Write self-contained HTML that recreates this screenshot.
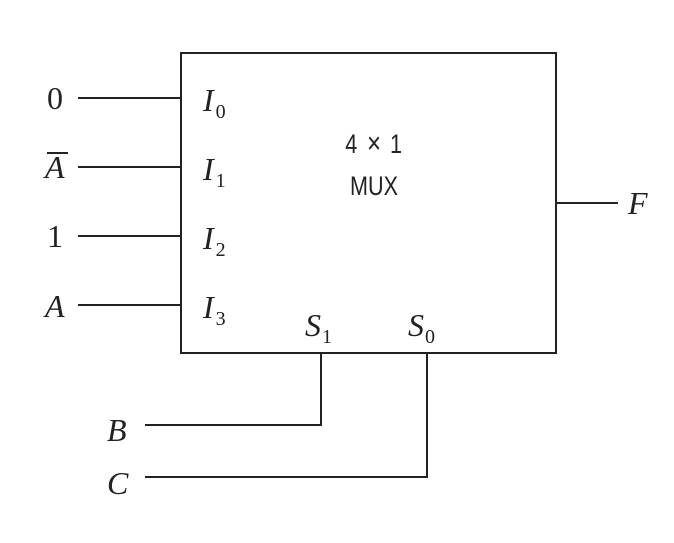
<!DOCTYPE html>
<html><head><meta charset="utf-8"><style>html,body{margin:0;padding:0;background:#fff}</style></head>
<body>
<svg width="674" height="538" xmlns="http://www.w3.org/2000/svg">
<g stroke="#222" stroke-width="2" fill="none">
<rect x="181" y="53" width="375" height="300"/>
<line x1="78" y1="98" x2="181" y2="98"/>
<line x1="78" y1="167" x2="181" y2="167"/>
<line x1="78" y1="236" x2="181" y2="236"/>
<line x1="78" y1="305" x2="181" y2="305"/>
<line x1="556" y1="203" x2="618" y2="203"/>
<polyline points="321,353 321,425 145,425"/>
<polyline points="427,353 427,477 145,477"/>
</g>
<g font-family="Liberation Serif, serif" font-size="32" fill="#222">
<text x="47" y="109">0</text>
<text x="45" y="178" font-style="italic">A</text>
<line x1="47" y1="153" x2="68" y2="153" stroke="#222" stroke-width="2"/>
<text x="47" y="247">1</text>
<text x="45" y="317" font-style="italic">A</text>
<text x="628" y="214" font-style="italic">F</text>
<text x="107" y="441" font-style="italic">B</text>
<text x="107" y="494" font-style="italic">C</text>
<text x="203" y="111" font-style="italic">I<tspan font-size="20" font-style="normal" dy="7" dx="2">0</tspan></text>
<text x="203" y="180" font-style="italic">I<tspan font-size="20" font-style="normal" dy="7" dx="2">1</tspan></text>
<text x="203" y="249" font-style="italic">I<tspan font-size="20" font-style="normal" dy="7" dx="2">2</tspan></text>
<text x="203" y="318" font-style="italic">I<tspan font-size="20" font-style="normal" dy="7" dx="2">3</tspan></text>
<text x="305" y="336" font-style="italic">S<tspan font-size="20" font-style="normal" dy="7" dx="1">1</tspan></text>
<text x="408" y="336" font-style="italic">S<tspan font-size="20" font-style="normal" dy="7" dx="1">0</tspan></text>
</g>
<g font-family="Liberation Sans, sans-serif" font-size="27" fill="#222" transform="translate(374,0) scale(0.8,1)">
<text x="-36" y="153">4</text>
<text x="0" y="153" text-anchor="middle" font-size="30">×</text>
<text x="20" y="153">1</text>
<text x="0" y="195" text-anchor="middle">MUX</text>
</g>
</svg>
</body></html>
